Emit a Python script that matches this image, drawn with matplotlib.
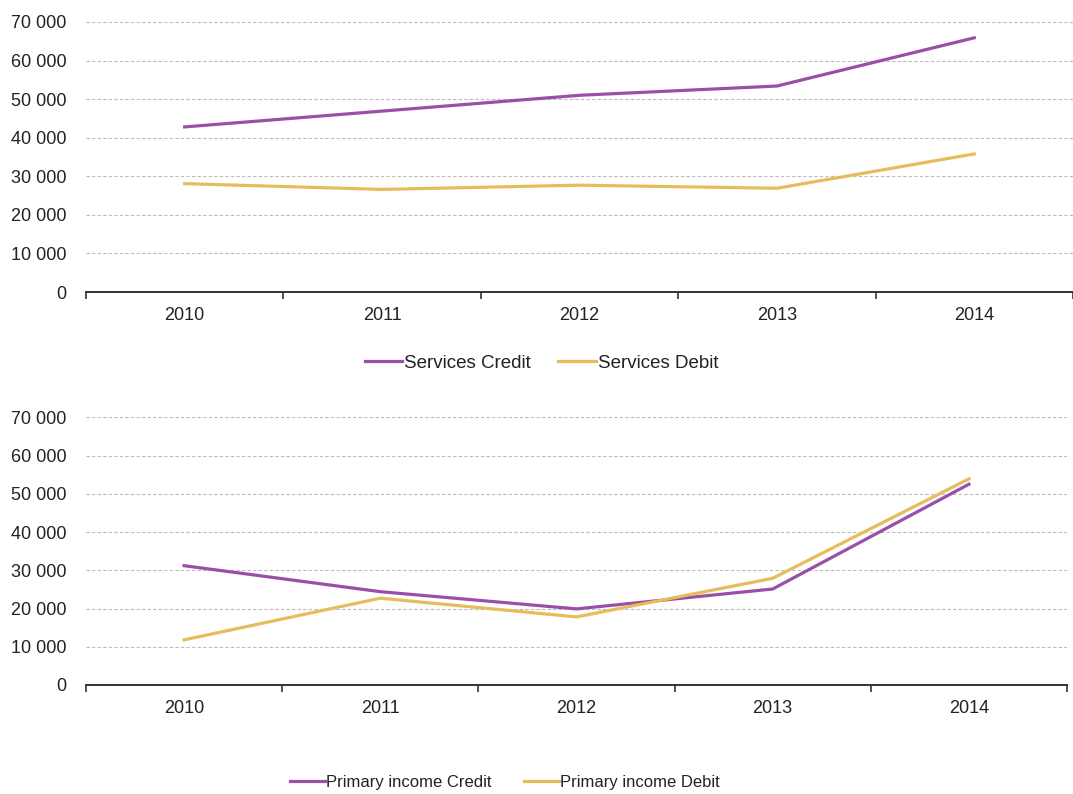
import matplotlib.pyplot as plt
from matplotlib.ticker import FuncFormatter, FixedLocator

years = ["2010", "2011", "2012", "2013", "2014"]

services_credit = [42800, 46900, 51000, 53400, 65900]
services_debit = [28100, 26600, 27700, 26900, 35800]

primary_credit = [31200, 24400, 19900, 25100, 52500]
primary_debit = [11800, 22700, 17800, 27900, 53900]

PURPLE = "#9A4FA6"
GOLD = "#E6BD5C"

plt.rcParams["font.family"] = ["Liberation Sans", "DejaVu Sans"]


def space_thousands(v, _pos):
    return f"{int(v):,}".replace(",", " ")


def style_axis(ax):
    x = list(range(len(years)))
    ax.set_xlim(-0.5, len(years) - 0.5)
    ax.set_ylim(0, 70000)
    ax.set_yticks(range(0, 70001, 10000))
    ax.yaxis.set_major_formatter(FuncFormatter(space_thousands))
    ax.set_xticks(x)
    ax.set_xticklabels(years)
    ax.xaxis.set_minor_locator(FixedLocator([i - 0.5 for i in range(len(years) + 1)]))
    ax.tick_params(axis="x", which="major", length=0, pad=11, labelsize=13, colors="#222222")
    ax.tick_params(axis="x", which="minor", length=5, width=1.2, color="#333333", direction="out")
    ax.tick_params(axis="y", length=0, pad=14, labelsize=13, colors="#222222")
    for side in ("top", "right", "left"):
        ax.spines[side].set_visible(False)
    ax.spines["bottom"].set_color("#333333")
    ax.spines["bottom"].set_linewidth(1.4)
    ax.grid(axis="y", linestyle=(0, (3, 2)), color="#BBBBBB", linewidth=0.8)
    ax.set_axisbelow(True)


fig = plt.figure(figsize=(10.73, 7.94), dpi=100)

ax1 = fig.add_axes([0.0801, 0.6322, 0.9199, 0.3401])
style_axis(ax1)
x = range(len(years))
l1, = ax1.plot(x, services_credit, color=PURPLE, linewidth=2.3, label="Services Credit")
l2, = ax1.plot(x, services_debit, color=GOLD, linewidth=2.3, label="Services Debit")
fig.legend(handles=[l1, l2], loc="center", bbox_to_anchor=(0.5047, 1 - 363 / 794),
           ncol=2, frameon=False, fontsize=13.5, handlelength=2.0, handletextpad=0.1,
           columnspacing=1.45, labelcolor="#222222")

ax2 = fig.add_axes([0.0801, 0.1373, 0.9143, 0.3371])
style_axis(ax2)
l3, = ax2.plot(x, primary_credit, color=PURPLE, linewidth=2.3, label="Primary income Credit")
l4, = ax2.plot(x, primary_debit, color=GOLD, linewidth=2.3, label="Primary income Debit")
fig.legend(handles=[l3, l4], loc="center", bbox_to_anchor=(0.4706, 1 - 782 / 794),
           ncol=2, frameon=False, fontsize=12, handlelength=2.1, handletextpad=0.1,
           columnspacing=1.9, labelcolor="#222222")

fig.savefig("out.png", dpi=100)
